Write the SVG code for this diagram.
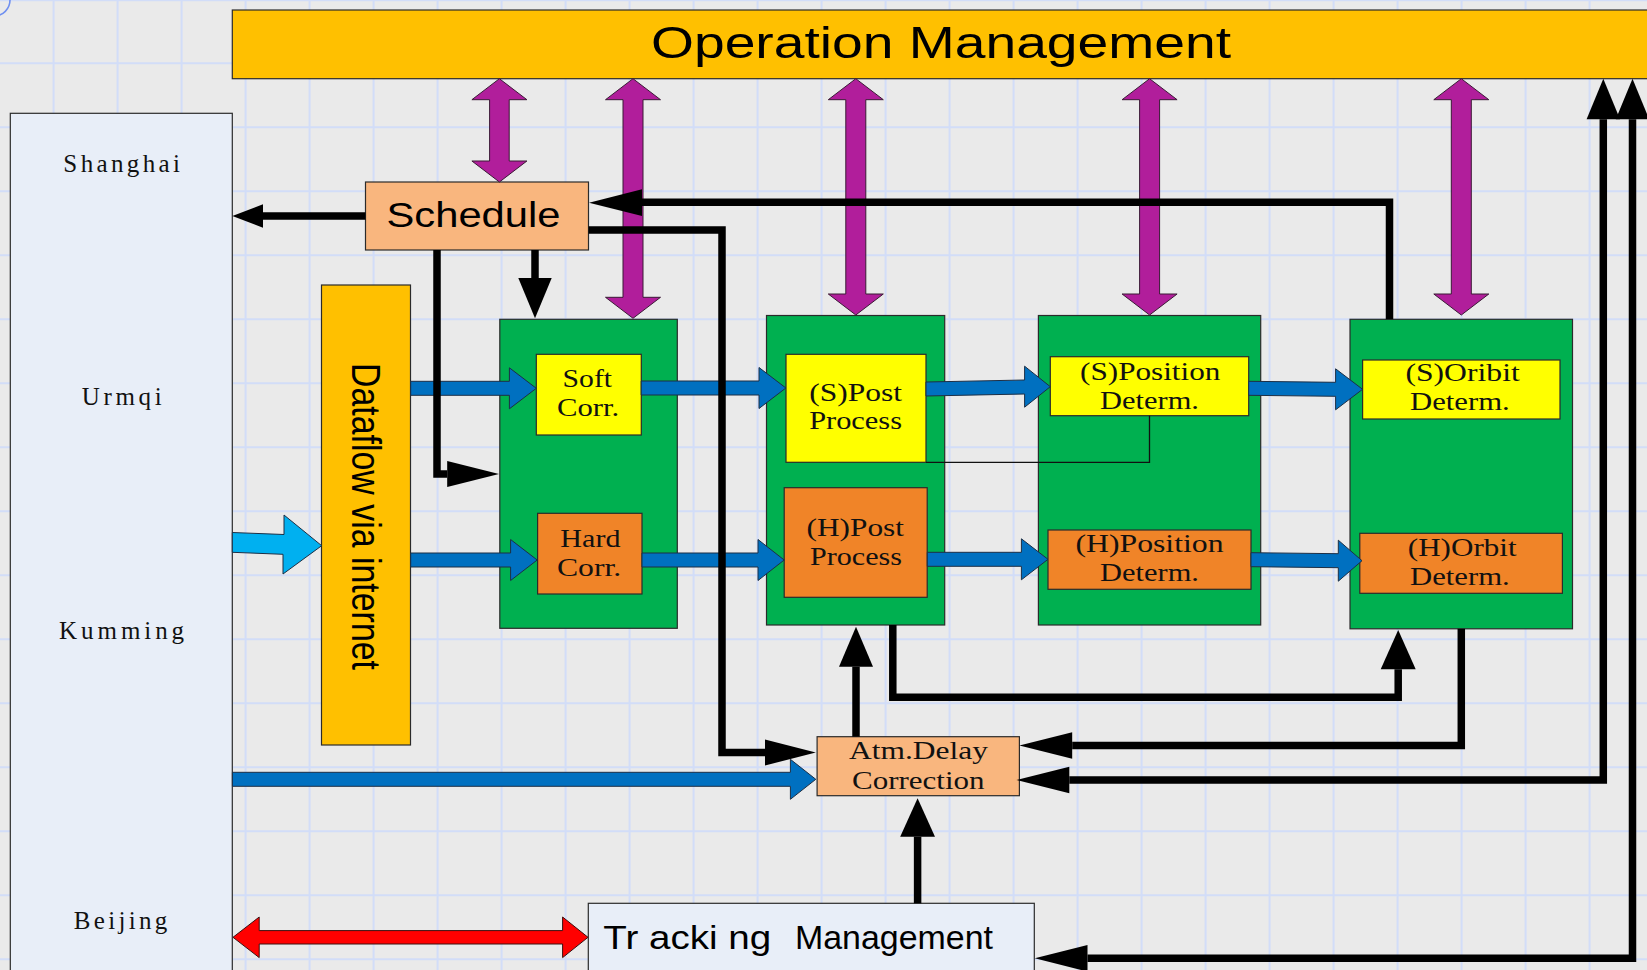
<svg xmlns="http://www.w3.org/2000/svg" width="1647" height="970" viewBox="0 0 1647 970">
  <style>
    .grid { stroke: #D2DDF8; stroke-width: 2; fill: none; }
    .box { stroke: #2b2b2b; stroke-width: 1.2; }
    .site { fill: #E8EEF8; }
    .amber { fill: #FFC000; }
    .peach { fill: #F9B67E; }
    .green { fill: #00B050; }
    .yellow { fill: #FFFF00; }
    .orange { fill: #F08428; }
    .purple { fill: #B11E9B; stroke: #3a1a35; stroke-width: 1; }
    .blue { fill: #0070C0; stroke: #1d2f45; stroke-width: 1; }
    .cyan { fill: #00B0F0; stroke: #1d2f45; stroke-width: 1; }
    .red { fill: #FF0000; stroke: #3a1010; stroke-width: 1; }
    .wire { fill: none; stroke: #000; stroke-width: 7.5; stroke-linejoin: miter; stroke-linecap: butt; }
    .thin { fill: none; stroke: #111; stroke-width: 1.3; }
    .head { fill: #000; }
    .serif { font-family: "Liberation Serif", "Times New Roman", serif; font-size: 24.5px; fill: #111; text-anchor: middle; }
    .site-label { font-family: "Liberation Serif", "Times New Roman", serif; font-size: 25px; fill: #111; text-anchor: middle; }
    .sans { font-family: "Liberation Sans", Arial, sans-serif; fill: #000; }
  </style>

  <!-- canvas and grid -->
  <rect x="0" y="0" width="1647" height="970" fill="#EAEAEA"/>
  <path class="grid" d="M53.6 0V970M117.6 0V970M181.6 0V970M245.6 0V970M309.6 0V970M373.6 0V970M437.6 0V970M501.6 0V970M565.6 0V970M629.6 0V970M693.6 0V970M757.6 0V970M821.6 0V970M885.6 0V970M949.6 0V970M1013.6 0V970M1077.6 0V970M1141.6 0V970M1205.6 0V970M1269.6 0V970M1333.6 0V970M1397.6 0V970M1461.6 0V970M1525.6 0V970M1589.6 0V970M0 0.3H1647M0 63.3H1647M0 127.3H1647M0 191.3H1647M0 255.3H1647M0 319.3H1647M0 383.3H1647M0 447.3H1647M0 511.3H1647M0 575.3H1647M0 639.3H1647M0 703.3H1647M0 767.3H1647M0 831.3H1647M0 895.3H1647M0 959.3H1647"/>
  <circle cx="-6" cy="0" r="16" fill="none" stroke="#6F8FF0" stroke-width="1.6"/>

  <!-- ground stations -->
  <g id="stations">
    <rect class="box site" x="10.3" y="113.3" width="222" height="870"/>
    <text class="site-label" x="121.7" y="172.3" textLength="116.7">Shanghai</text>
    <text class="site-label" x="121.7" y="405" textLength="80">Urmqi</text>
    <text class="site-label" x="121.6" y="638.5" textLength="125">Kumming</text>
    <text class="site-label" x="120.5" y="929.3" textLength="93.7">Beijing</text>
  </g>

  <g id="operation-management">
    <rect class="box amber" x="232.3" y="10" width="1430" height="68.7"/>
    <text class="sans" x="651" y="58" font-size="44" textLength="580" lengthAdjust="spacingAndGlyphs">Operation Management</text>
  </g>

  <g id="schedule">
    <rect class="box peach" x="365.5" y="182" width="223" height="68"/>
    <text class="sans" x="386.5" y="226.7" font-size="35" textLength="174" lengthAdjust="spacingAndGlyphs">Schedule</text>
  </g>

  <g id="dataflow">
    <rect class="box amber" x="321.5" y="285" width="89" height="460"/>
    <text class="sans" transform="translate(351.8,363) rotate(90)" x="0" y="0" font-size="40" textLength="307" lengthAdjust="spacingAndGlyphs">Dataflow via internet</text>
  </g>

  <g id="correction-stage">
    <rect class="box green" x="499.8" y="319.3" width="177.5" height="309"/>
  </g>
  <g id="soft-corr">
    <rect class="box yellow" x="536.3" y="354.3" width="105" height="80.7"/>
    <text class="serif" x="587.3" y="387.3" textLength="49.4" lengthAdjust="spacingAndGlyphs">Soft</text>
    <text class="serif" x="588.1" y="416" textLength="62.2" lengthAdjust="spacingAndGlyphs">Corr.</text>
  </g>
  <g id="hard-corr">
    <rect class="box orange" x="537.6" y="513.3" width="104.4" height="80.7"/>
    <text class="serif" x="590.4" y="546.7" textLength="60.1" lengthAdjust="spacingAndGlyphs">Hard</text>
    <text class="serif" x="589.1" y="576" textLength="64.3" lengthAdjust="spacingAndGlyphs">Corr.</text>
  </g>

  <g id="post-stage">
    <rect class="box green" x="766.5" y="315.5" width="178.2" height="309.5"/>
  </g>
  <g id="s-post">
    <rect class="box yellow" x="786" y="354.3" width="140" height="108"/>
    <text class="serif" x="855.6" y="400.7" textLength="92.9" lengthAdjust="spacingAndGlyphs">(S)Post</text>
    <text class="serif" x="855.6" y="429.3" textLength="92.9" lengthAdjust="spacingAndGlyphs">Process</text>
  </g>
  <g id="h-post">
    <rect class="box orange" x="784.2" y="487.7" width="143" height="109.6"/>
    <text class="serif" x="855.3" y="535.7" textLength="97.4" lengthAdjust="spacingAndGlyphs">(H)Post</text>
    <text class="serif" x="856" y="565" textLength="92" lengthAdjust="spacingAndGlyphs">Process</text>
  </g>

  <g id="position-stage">
    <rect class="box green" x="1038.4" y="315.5" width="222.3" height="309.5"/>
  </g>
  <g id="s-position">
    <rect class="box yellow" x="1050.3" y="356.7" width="198.4" height="59"/>
    <text class="serif" x="1150.2" y="380" textLength="140.3" lengthAdjust="spacingAndGlyphs">(S)Position</text>
    <text class="serif" x="1149.5" y="409" textLength="98.8" lengthAdjust="spacingAndGlyphs">Determ.</text>
  </g>
  <g id="h-position">
    <rect class="box orange" x="1048" y="530" width="203" height="59.3"/>
    <text class="serif" x="1149.5" y="552.3" textLength="148.2" lengthAdjust="spacingAndGlyphs">(H)Position</text>
    <text class="serif" x="1149.5" y="581" textLength="98.8" lengthAdjust="spacingAndGlyphs">Determ.</text>
  </g>

  <g id="orbit-stage">
    <rect class="box green" x="1350" y="319.3" width="222.5" height="309.5"/>
  </g>
  <g id="s-orbit">
    <rect class="box yellow" x="1362.6" y="360" width="197.4" height="59"/>
    <text class="serif" x="1462.6" y="381" textLength="114.3" lengthAdjust="spacingAndGlyphs">(S)Oribit</text>
    <text class="serif" x="1459.9" y="410" textLength="99.7" lengthAdjust="spacingAndGlyphs">Determ.</text>
  </g>
  <g id="h-orbit">
    <rect class="box orange" x="1359.8" y="533.3" width="202.6" height="60"/>
    <text class="serif" x="1462.2" y="556" textLength="108.8" lengthAdjust="spacingAndGlyphs">(H)Orbit</text>
    <text class="serif" x="1459.9" y="585" textLength="99.7" lengthAdjust="spacingAndGlyphs">Determ.</text>
  </g>

  <g id="atm-delay">
    <rect class="box peach" x="817.1" y="736.7" width="202.3" height="59"/>
    <text class="serif" x="918.5" y="759.3" textLength="139" lengthAdjust="spacingAndGlyphs">Atm.Delay</text>
    <text class="serif" x="918.3" y="789.3" textLength="132.6" lengthAdjust="spacingAndGlyphs">Correction</text>
  </g>

  <g id="tracking-management">
    <rect class="box site" x="588.3" y="903.3" width="446" height="80"/>
    <text class="sans" x="603.3" y="949" font-size="34" textLength="168" lengthAdjust="spacingAndGlyphs">Tr acki ng</text>
    <text class="sans" x="795" y="949" font-size="34" textLength="198" lengthAdjust="spacingAndGlyphs">Management</text>
  </g>

  <g id="connectors">
    <!-- operation management links -->
    <polygon class="purple" points="499.4,78.7 526.9,99.7 509.2,99.7 509.2,161 526.9,161 499.4,182 471.9,161 489.6,161 489.6,99.7 471.9,99.7"/>
    <polygon class="purple" points="633,78.7 660.5,99.7 643,99.7 643,297.3 660.5,297.3 633,318.3 605.5,297.3 623,297.3 623,99.7 605.5,99.7"/>
    <polygon class="purple" points="855.8,78.7 883.3,99.7 865.8,99.7 865.8,294 883.3,294 855.8,315 828.3,294 845.8,294 845.8,99.7 828.3,99.7"/>
    <polygon class="purple" points="1149.6,78.7 1177.1,99.7 1159.6,99.7 1159.6,294 1177.1,294 1149.6,315 1122.1,294 1139.6,294 1139.6,99.7 1122.1,99.7"/>
    <polygon class="purple" points="1461.3,78.7 1488.8,99.7 1471.3,99.7 1471.3,294 1488.8,294 1461.3,315 1433.8,294 1451.3,294 1451.3,99.7 1433.8,99.7"/>

    <!-- data flow -->
    <polygon class="cyan" points="232.3,532.5 284,534.5 284,515 321.7,545.7 283,574 283,554.3 232.3,552.3"/>
    <polygon class="blue" points="410.7,381.3 509.4,381.3 509.4,367.8 536.3,388.3 509.4,408.8 509.4,395.3 410.7,395.3"/>
    <polygon class="blue" points="410.7,553 510.6,553 510.6,539.5 537.2,560 510.6,580.5 510.6,567 410.7,567"/>
    <polygon class="blue" points="641.2,381 759,381 759,367.5 785.9,388 759,408.5 759,395 641.2,395"/>
    <polygon class="blue" points="642,553 758,553 758,539.5 784.2,560 758,580.5 758,567 642,567"/>
    <polygon class="blue" points="926,382 1024.6,380 1024.6,366.2 1050.3,386.7 1024.6,407.2 1024.6,394 926,396"/>
    <polygon class="blue" points="927.3,552.3 1021.4,552.3 1021.4,538.8 1048,559.3 1021.4,579.8 1021.4,566.3 927.3,566.3"/>
    <polygon class="blue" points="1248.7,381.3 1335.6,382.3 1335.6,368.8 1362.6,389.3 1335.6,409.8 1335.6,396.3 1248.7,395.3"/>
    <polygon class="blue" points="1251,552.7 1338.3,553.7 1338.3,540.2 1362,560.7 1338.3,581.2 1338.3,567.7 1251,566.7"/>
    <polygon class="blue" points="232.4,772.3 790.4,772.3 790.4,759.3 815.8,779.3 790.4,799.3 790.4,786.3 232.4,786.3"/>
    <polygon class="red" points="233,937.3 259.2,917 259.2,930.6 562.6,930.6 562.6,917 588,937.3 562.6,957.6 562.6,944 259.2,944 259.2,957.6"/>

    <!-- position feedback to post process -->
    <path class="thin" d="M926 462.3H1149.5V415.7"/>

    <!-- control lines -->
    <path class="wire" d="M365.5 216H263"/>
    <polygon class="head" points="232.4,216 263,204.3 263,227.7"/>

    <path class="wire" d="M437 250V474H447.2"/>
    <polygon class="head" points="499,474 447.2,461 447.2,487"/>

    <path class="wire" d="M535 250V278"/>
    <polygon class="head" points="535,318.3 518.3,278 551.7,278"/>

    <path class="wire" d="M1389.5 319.3V202.3H642"/>
    <polygon class="head" points="589,202.7 642,189.3 642,216"/>

    <path class="wire" d="M588.6 230H722V752.5H765"/>
    <polygon class="head" points="815.8,752.5 765,739.5 765,765.5"/>

    <path class="wire" d="M856 736.7V666.7"/>
    <polygon class="head" points="856,626.7 839,666.7 873,666.7"/>

    <path class="wire" d="M892.8 625V697.3H1398.2V669.3"/>
    <polygon class="head" points="1398.2,630 1380.7,669.3 1415.7,669.3"/>

    <path class="wire" d="M1461.3 628.8V745.5H1072.2"/>
    <polygon class="head" points="1019.4,745.5 1072.2,732.3 1072.2,758.8"/>

    <path class="wire" d="M1603.3 119.3V780H1069.3"/>
    <polygon class="head" points="1603.3,78.7 1586.6,119.3 1620,119.3"/>
    <polygon class="head" points="1016.5,780 1069.3,766.7 1069.3,793.3"/>

    <path class="wire" d="M1632.5 119.3V958.3H1087.5"/>
    <polygon class="head" points="1632.5,78.7 1615.8,119.3 1649.2,119.3"/>
    <polygon class="head" points="1034.8,958.3 1087.5,945 1087.5,971.6"/>

    <path class="wire" d="M917.6 903.3V836.7"/>
    <polygon class="head" points="917.6,798.3 900.2,836.7 935,836.7"/>
  </g>
</svg>
